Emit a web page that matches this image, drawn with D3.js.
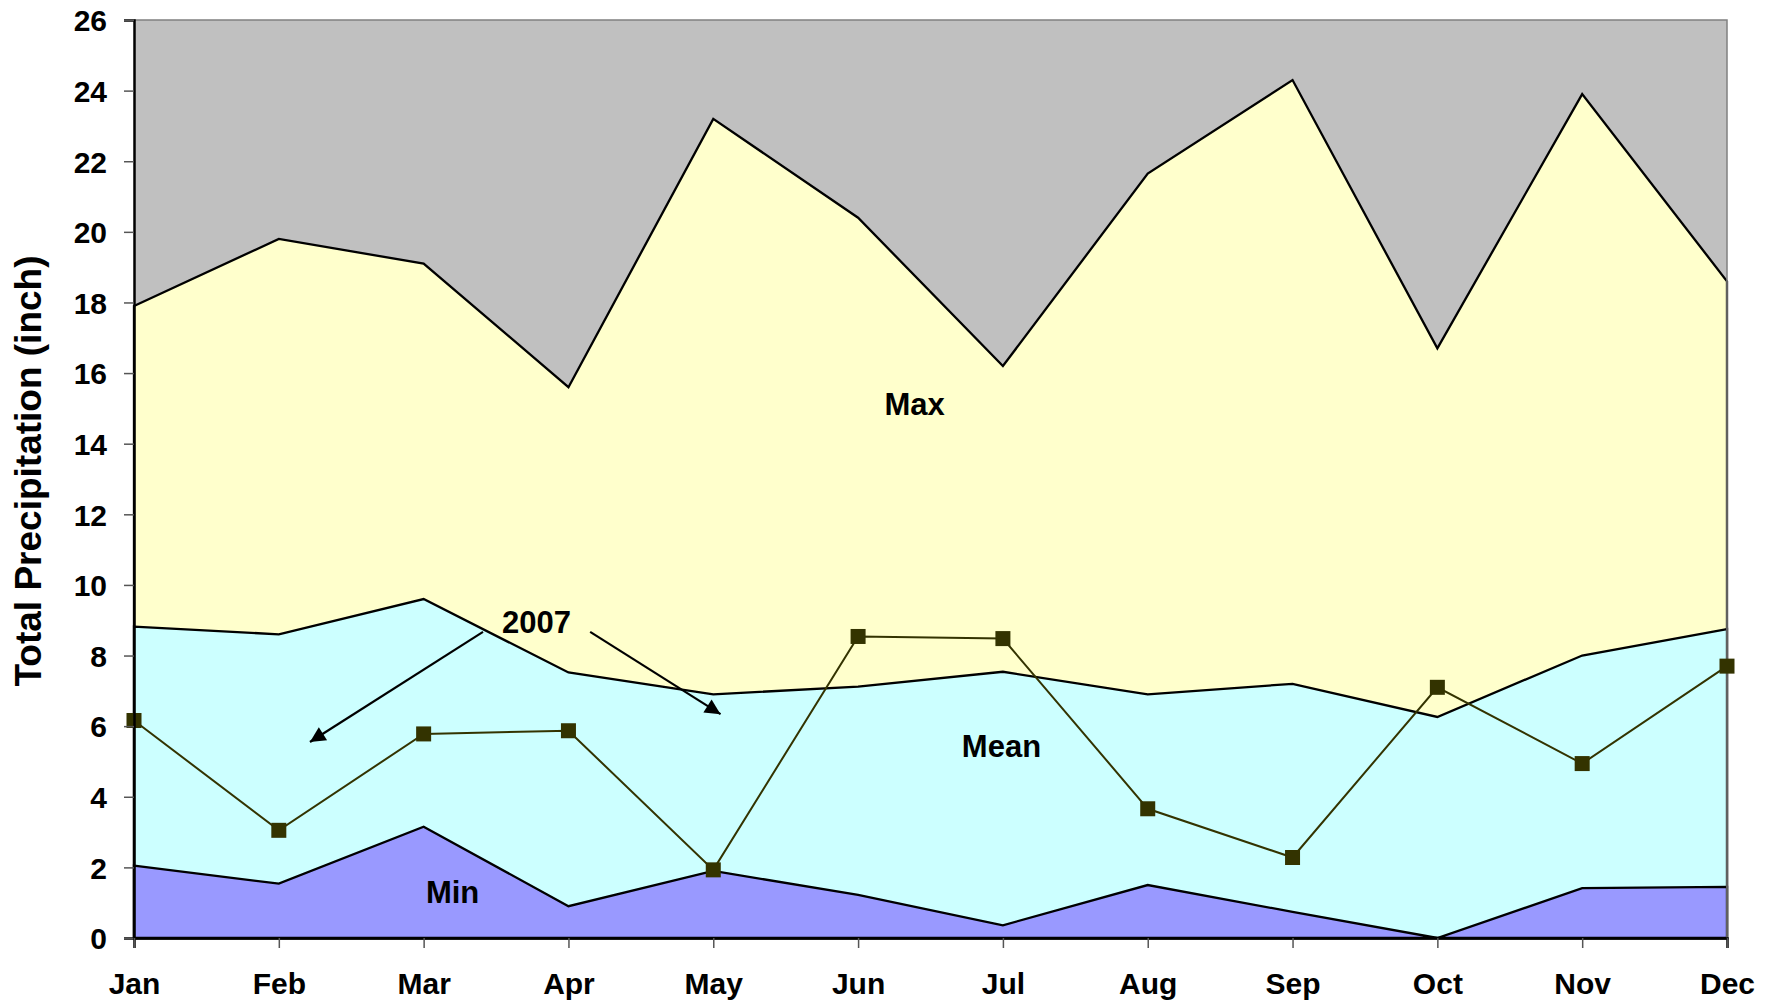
<!DOCTYPE html>
<html>
<head>
<meta charset="utf-8">
<script src="https://cdn.jsdelivr.net/npm/d3@7.9.0/dist/d3.min.js"></script>
<style>
  html, body { margin: 0; padding: 0; background: #fff; }
  svg text { font-family: "Liberation Sans", Arial, sans-serif; font-weight: bold; fill: #000; }
</style>
</head>
<body>
<svg id="chart" width="1775" height="1008"></svg>
<script>
// monthly precipitation (inch)
const months = ["Jan", "Feb", "Mar", "Apr", "May", "Jun", "Jul", "Aug", "Sep", "Oct", "Nov", "Dec"];
const maxVals  = [17.9, 19.8, 19.1, 15.6, 23.2, 20.4, 16.2, 21.65, 24.3, 16.7, 23.9, 18.6];
const meanVals = [8.82, 8.6, 9.6, 7.52, 6.9, 7.12, 7.54, 6.9, 7.2, 6.26, 8.0, 8.75];
const minVals  = [2.05, 1.54, 3.15, 0.9, 1.9, 1.22, 0.36, 1.5, 0.74, 0.0, 1.41, 1.45];
const y2007    = [6.16, 3.05, 5.78, 5.87, 1.93, 8.54, 8.48, 3.66, 2.28, 7.1, 4.94, 7.7];
const yTicks   = d3.range(0, 27, 2);

// text labels placed at (month index, value)
const areaLabels = [
  { text: "Max",  i: 5.39, v: 14.8 },
  { text: "Mean", i: 5.99, v: 5.13 },
  { text: "Min",  i: 2.20, v: 0.99 },
  { text: "2007", i: 2.78, v: 8.64 }
];
// arrows from the "2007" label
const arrows = [
  { i0: 2.41, v0: 8.67, i1: 1.215, v1: 5.55 },
  { i0: 3.15, v0: 8.67, i1: 4.05,  v1: 6.34 }
];

const svg = d3.select("#chart");
const plotL = 134, plotR = 1727, plotT = 20, plotB = 938;

const x = d3.scalePoint().domain(months).range([plotL, plotR]).padding(0);
const xi = d3.scaleLinear().domain([0, months.length - 1]).range([plotL, plotR]);
const y = d3.scaleLinear().domain([0, 26]).range([plotB, plotT]);

// plot background
svg.append("rect")
  .attr("x", plotL).attr("y", plotT)
  .attr("width", plotR - plotL).attr("height", plotB - plotT)
  .attr("fill", "#c0c0c0");

const area = d3.area()
  .x((d, i) => x(months[i]))
  .y0(y(0))
  .y1(d => y(d));

const layers = [
  { vals: maxVals,  color: "#ffffcc" },
  { vals: meanVals, color: "#ccffff" },
  { vals: minVals,  color: "#9999ff" }
];

layers.forEach(l => {
  svg.append("path")
    .datum(l.vals)
    .attr("d", area)
    .attr("fill", l.color)
    .attr("stroke", "#000")
    .attr("stroke-width", 2.3)
    .attr("stroke-linejoin", "miter");
});

// plot border (top and right)
svg.append("path")
  .attr("d", `M${plotL},${plotT}H${plotR}V${plotB}`)
  .attr("fill", "none")
  .attr("stroke", "#808080")
  .attr("stroke-width", 1.5);

// 2007 series
const line = d3.line()
  .x((d, i) => x(months[i]))
  .y(d => y(d));

svg.append("path")
  .datum(y2007)
  .attr("d", line)
  .attr("fill", "none")
  .attr("stroke", "#333300")
  .attr("stroke-width", 2);

svg.selectAll("rect.mk")
  .data(y2007)
  .enter()
  .append("rect")
  .attr("class", "mk")
  .attr("x", (d, i) => x(months[i]) - 7.5)
  .attr("y", d => y(d) - 7.5)
  .attr("width", 15).attr("height", 15)
  .attr("fill", "#333300");

// axes
const yAxis = svg.append("g")
  .attr("transform", `translate(${plotL},0)`)
  .call(d3.axisLeft(y).tickValues(yTicks).tickSize(10).tickPadding(17));

const xAxis = svg.append("g")
  .attr("transform", `translate(0,${plotB})`)
  .call(d3.axisBottom(x).tickSize(10).tickPadding(19));

[yAxis, xAxis].forEach(ax => {
  ax.select(".domain").attr("stroke", "#000").attr("stroke-width", 2.5);
  ax.selectAll(".tick line").attr("stroke", "#555").attr("stroke-width", 1.5);
  ax.selectAll(".tick text")
    .attr("font-family", "Liberation Sans, Arial, sans-serif")
    .attr("font-weight", "bold")
    .attr("font-size", 30)
    .attr("fill", "#000");
});
yAxis.selectAll(".tick text").attr("dy", "0.36em");
xAxis.selectAll(".tick text").attr("dy", "0.9em");

// y axis title
svg.append("text")
  .attr("transform", `translate(41,471) rotate(-90)`)
  .attr("text-anchor", "middle")
  .attr("font-size", 37)
  .text("Total Precipitation (inch)");

// arrow head marker
svg.append("defs").append("marker")
  .attr("id", "head")
  .attr("viewBox", "0 0 10 10")
  .attr("refX", 10).attr("refY", 5)
  .attr("markerWidth", 8).attr("markerHeight", 7)
  .attr("markerUnits", "strokeWidth")
  .attr("orient", "auto")
  .append("path")
  .attr("d", "M0,0L10,5L0,10Z")
  .attr("fill", "#000");

svg.selectAll("line.arrow")
  .data(arrows)
  .enter()
  .append("line")
  .attr("class", "arrow")
  .attr("x1", d => xi(d.i0)).attr("y1", d => y(d.v0))
  .attr("x2", d => xi(d.i1)).attr("y2", d => y(d.v1))
  .attr("stroke", "#000")
  .attr("stroke-width", 2.2)
  .attr("marker-end", "url(#head)");

svg.selectAll("text.lbl")
  .data(areaLabels)
  .enter()
  .append("text")
  .attr("class", "lbl")
  .attr("x", d => xi(d.i))
  .attr("y", d => y(d.v))
  .attr("text-anchor", "middle")
  .attr("font-size", 31)
  .text(d => d.text);
</script>
</body>
</html>
